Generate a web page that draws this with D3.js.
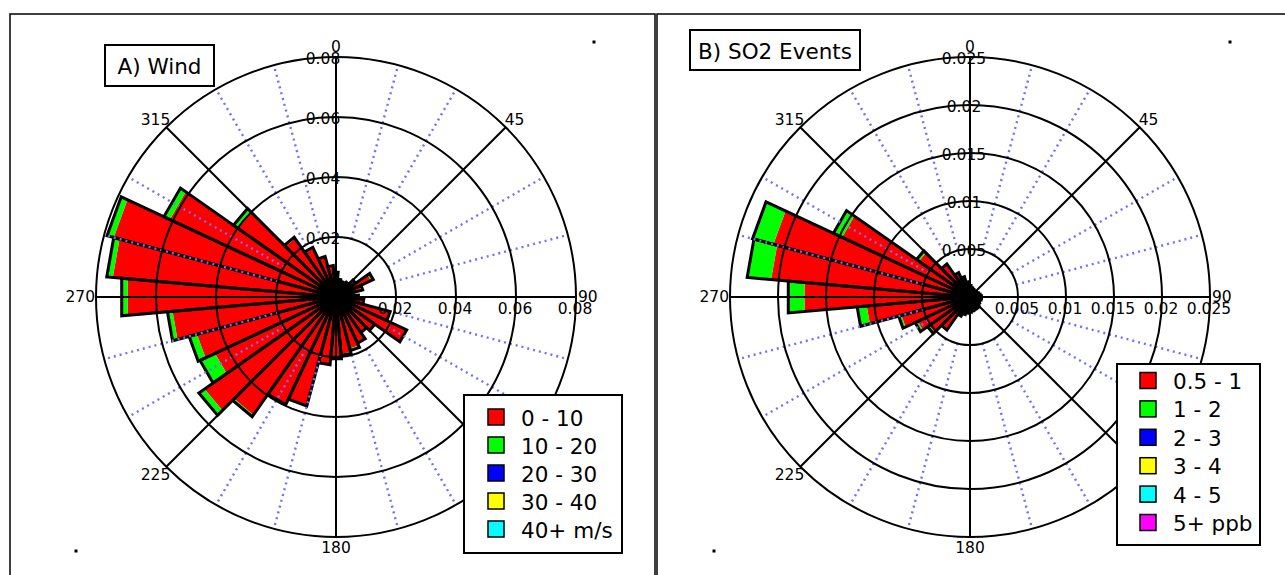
<!DOCTYPE html>
<html>
<head>
<meta charset="utf-8">
<script src="https://cdn.jsdelivr.net/npm/d3@7"></script>
<style>
  body { margin: 0; background: #fff; }
  svg { display: block; }
  text { font-family: "DejaVu Sans", sans-serif; fill: #000; }
</style>
</head>
<body>
<svg id="chart" width="1285" height="575"></svg>
<script>
// Direction bins (degrees, compass bearing, 10° wide, centred on the value)
const directions = [0, 10, 20, 30, 40, 50, 60, 70, 80, 90, 100, 110, 120, 130, 140, 150, 160, 170,
                    180, 190, 200, 210, 220, 230, 240, 250, 260, 270, 280, 290, 300, 310, 320, 330, 340, 350];

// A) Wind: frequency per direction bin, by wind speed class
const windClasses = ["0 - 10", "10 - 20", "20 - 30", "30 - 40", "40+ m/s"];
const wind0to10 = [0.0083, 0.0060, 0.0055, 0.0050, 0.0060, 0.0077, 0.0129, 0.0086, 0.0060, 0.0075, 0.0093, 0.0187,
                   0.0260, 0.0158, 0.0145, 0.0170, 0.0178, 0.0190, 0.0202, 0.0227, 0.0376, 0.0396, 0.0480, 0.0535,
                   0.0445, 0.0480, 0.0547, 0.0697, 0.0747, 0.0767, 0.0611, 0.0400, 0.0238, 0.0179, 0.0138, 0.0105];
const wind10to20 = [0, 0, 0, 0, 0, 0.0003, 0.0008, 0.0006, 0, 0, 0, 0,
                    0, 0, 0, 0, 0.0007, 0.0005, 0.0005, 0, 0, 0, 0.0007, 0.0023,
                    0.0055, 0.0027, 0.0017, 0.0020, 0.0020, 0.0023, 0.0022, 0.0017, 0.0005, 0.0004, 0.0002, 0];
const wind20to30 = [0, 0, 0, 0, 0, 0, 0, 0, 0, 0, 0, 0, 0, 0, 0, 0, 0, 0,
                    0, 0, 0, 0, 0, 0, 0, 0, 0, 0, 0, 0, 0, 0, 0, 0, 0, 0];
const wind30to40 = [0, 0, 0, 0, 0, 0, 0, 0, 0, 0, 0, 0, 0, 0, 0, 0, 0, 0,
                    0, 0, 0, 0, 0, 0, 0, 0, 0, 0, 0, 0, 0, 0, 0, 0, 0, 0];
const wind40plus = [0, 0, 0, 0, 0, 0, 0, 0, 0, 0, 0, 0, 0, 0, 0, 0, 0, 0,
                    0, 0, 0, 0, 0, 0, 0, 0, 0, 0, 0, 0, 0, 0, 0, 0, 0, 0];
const windTicks = [0.02, 0.04, 0.06, 0.08];
const windTickLabels = ["0.02", "0.04", "0.06", "0.08"];

// B) SO2 events: frequency per direction bin, by concentration class
const so2Classes = ["0.5 - 1", "1 - 2", "2 - 3", "3 - 4", "4 - 5", "5+ ppb"];
const so2_05to1 = [0.0012, 0.0010, 0.0009, 0.0008, 0.0008, 0.0008, 0.0009, 0.0010, 0.0011, 0.0012, 0.0012, 0.0011,
                   0.0011, 0.0012, 0.0013, 0.0014, 0.0014, 0.0015, 0.0016, 0.0017, 0.0019, 0.0022, 0.0041, 0.0052,
                   0.0060, 0.0074, 0.0108, 0.0173, 0.0208, 0.0212, 0.0147, 0.0065, 0.0041, 0.0028, 0.0022, 0.0016];
const so2_1to2 = [0, 0, 0, 0, 0, 0, 0, 0, 0, 0, 0, 0,
                  0, 0, 0, 0, 0, 0, 0, 0, 0, 0, 0.0001, 0.0002,
                  0.0003, 0.0003, 0.0010, 0.0017, 0.0025, 0.0021, 0.0010, 0.0003, 0.0001, 0, 0, 0];
const so2_2to3 = [0, 0, 0, 0, 0, 0, 0, 0, 0, 0, 0, 0, 0, 0, 0, 0, 0, 0,
                  0, 0, 0, 0, 0, 0, 0, 0, 0, 0, 0, 0.00015, 0, 0, 0, 0, 0, 0];
const so2_3to4 = [0, 0, 0, 0, 0, 0, 0, 0, 0, 0, 0, 0, 0, 0, 0, 0, 0, 0,
                  0, 0, 0, 0, 0, 0, 0, 0, 0, 0, 0, 0, 0, 0, 0, 0, 0, 0];
const so2_4to5 = [0, 0, 0, 0, 0, 0, 0, 0, 0, 0, 0, 0, 0, 0, 0, 0, 0, 0,
                  0, 0, 0, 0, 0, 0, 0, 0, 0, 0, 0, 0, 0, 0, 0, 0, 0, 0];
const so2_5plus = [0, 0, 0, 0, 0, 0, 0, 0, 0, 0, 0, 0, 0, 0, 0, 0, 0, 0,
                   0, 0, 0, 0, 0, 0, 0, 0, 0, 0, 0, 0, 0, 0, 0, 0, 0, 0];
const so2Ticks = [0.005, 0.01, 0.015, 0.02, 0.025];
const so2TickLabels = ["0.005", "0.01", "0.015", "0.02", "0.025"];

// Compass grid angles; the 135 label sits under the legend, so only the others are written
const compassAngles = [0, 45, 90, 135, 180, 225, 270, 315];
const compassLabelAngles = [0, 45, 90, 180, 225, 270, 315];
const compassLabels = ["0", "45", "90", "180", "225", "270", "315"];
const minorAngles = [15, 30, 60, 75, 105, 120, 150, 165, 195, 210, 240, 255, 285, 300, 330, 345];

const classColors = ["#ff0000", "#00ff00", "#0000ff", "#ffff00", "#00ffff", "#ff00ff"];

const svg = d3.select("#chart");
svg.append("rect").attr("width", 1285).attr("height", 575).attr("fill", "#fff");

// panel frames
svg.append("rect").attr("x", 10).attr("y", 14).attr("width", 645).attr("height", 620)
  .attr("fill", "none").attr("stroke", "#000").attr("stroke-width", 1.5);
svg.append("rect").attr("x", 657).attr("y", 14).attr("width", 700).attr("height", 620)
  .attr("fill", "none").attr("stroke", "#000").attr("stroke-width", 1.5);

function drawRose(cfg) {
  const g = svg.append("g");
  const { cx, cy, R } = cfg;
  const r = d3.scaleLinear().domain([0, cfg.max]).range([0, R]);
  const ang = d3.scaleLinear().domain([0, 360]).range([0, 2 * Math.PI]);
  const pt = (v, deg) => [cx + r(v) * Math.sin(ang(deg)), cy - r(v) * Math.cos(ang(deg))];
  const halfBin = 5;

  // stacked petals
  const stack = d3.stack().keys(d3.range(cfg.series.length))
    .value((d, k) => cfg.series[k][d]);
  const layers = stack(d3.range(directions.length));
  layers.forEach((layer, k) => {
    g.append("g").selectAll("polygon")
      .data(layer.filter(d => d[1] - d[0] > 0))
      .join("polygon")
      .attr("fill", classColors[k])
      .attr("points", d => {
        const dir = directions[d.data];
        return [pt(d[0], dir - halfBin), pt(d[1], dir - halfBin),
                pt(d[1], dir + halfBin), pt(d[0], dir + halfBin)].map(p => p.join(",")).join(" ");
      });
  });
  const totals = d3.range(directions.length).map(i => layers[layers.length - 1][i][1]);
  g.append("g").selectAll("polygon")
    .data(d3.range(directions.length))
    .join("polygon")
    .attr("fill", "none")
    .attr("stroke", "#000")
    .attr("stroke-width", 3)
    .attr("stroke-linejoin", "miter")
    .attr("points", i => {
      const dir = directions[i];
      return [[cx, cy], pt(totals[i], dir - halfBin), pt(totals[i], dir + halfBin)]
        .map(p => p.join(",")).join(" ");
    });

  // grid: dotted minor spokes, rings and major spokes
  const first = cfg.ticks[0];
  g.append("g").selectAll("line").data(minorAngles).join("line")
    .attr("x1", d => pt(first, d)[0]).attr("y1", d => pt(first, d)[1])
    .attr("x2", d => pt(cfg.max, d)[0]).attr("y2", d => pt(cfg.max, d)[1])
    .attr("stroke", "#7070ff").attr("stroke-width", 2.4).attr("stroke-dasharray", "2 4");
  g.append("g").selectAll("circle").data(cfg.ticks).join("circle")
    .attr("cx", cx).attr("cy", cy).attr("r", d => r(d))
    .attr("fill", "none").attr("stroke", "#000").attr("stroke-width", 2);
  g.append("g").selectAll("line").data(compassAngles).join("line")
    .attr("x1", cx).attr("y1", cy)
    .attr("x2", d => pt(cfg.max, d)[0]).attr("y2", d => pt(cfg.max, d)[1])
    .attr("stroke", "#000").attr("stroke-width", 2);

  // radial tick labels along north and east
  const fs = "15.5px";
  g.append("g").selectAll("text").data(cfg.ticks).join("text")
    .attr("x", cx + cfg.northShift).attr("y", d => cy - r(d) + 2)
    .attr("text-anchor", "middle").attr("dominant-baseline", "central")
    .style("font-size", fs).text((d, i) => cfg.tickLabels[i]);
  g.append("g").selectAll("text").data(cfg.ticks).join("text")
    .attr("x", d => cx + r(d) - 1).attr("y", cy + 12)
    .attr("text-anchor", "middle").attr("dominant-baseline", "central")
    .style("font-size", fs).text((d, i) => cfg.tickLabels[i]);

  // compass labels
  const place = {
    0:   { dx: 0,  dy: -10, a: "middle" },
    45:  { dx: -1, dy: -7,  a: "start" },
    90:  { dx: 2,  dy: 0,   a: "start" },
    180: { dx: 0,  dy: 11,  a: "middle" },
    225: { dx: 4,  dy: 8,   a: "end" },
    270: { dx: -1, dy: 0,   a: "end" },
    315: { dx: 4,  dy: -7,  a: "end" }
  };
  g.append("g").selectAll("text").data(compassLabelAngles).join("text")
    .attr("x", d => pt(cfg.max, d)[0] + place[d].dx)
    .attr("y", d => pt(cfg.max, d)[1] + place[d].dy)
    .attr("text-anchor", d => place[d].a).attr("dominant-baseline", "central")
    .style("font-size", fs).text((d, i) => compassLabels[i]);

  // title box
  const tb = cfg.titleBox;
  g.append("rect").attr("x", tb.x).attr("y", tb.y).attr("width", tb.w).attr("height", tb.h)
    .attr("fill", "#fff").attr("stroke", "#000").attr("stroke-width", 2);
  g.append("text").attr("x", tb.x + tb.w / 2).attr("y", tb.y + tb.h / 2 + 1)
    .attr("text-anchor", "middle").attr("dominant-baseline", "central")
    .style("font-size", "21.5px").text(cfg.title);

  // legend
  const lb = cfg.legendBox;
  const lg = g.append("g");
  lg.append("rect").attr("x", lb.x).attr("y", lb.y).attr("width", lb.w).attr("height", lb.h)
    .attr("fill", "#fff").attr("stroke", "#000").attr("stroke-width", 2);
  const rows = lg.selectAll("g.row").data(cfg.classes).join("g").attr("class", "row")
    .attr("transform", (d, i) => `translate(0,${lb.firstRow + i * lb.step})`);
  rows.append("rect").attr("x", lb.swatchX).attr("y", -8).attr("width", 16).attr("height", 16)
    .attr("fill", (d, i) => classColors[i]).attr("stroke", "#000").attr("stroke-width", 1.5);
  rows.append("text").attr("x", lb.textX).attr("y", 1)
    .attr("dominant-baseline", "central").style("font-size", "21.5px").text(d => d);

  // corner marks
  cfg.marks.forEach(m => g.append("rect").attr("x", m[0] - 1.5).attr("y", m[1] - 1.5)
    .attr("width", 3).attr("height", 3).attr("fill", "#000"));
}

drawRose({
  cx: 336, cy: 297, R: 240, max: 0.08,
  ticks: windTicks, tickLabels: windTickLabels, northShift: -13,
  series: [wind0to10, wind10to20, wind20to30, wind30to40, wind40plus],
  classes: windClasses,
  title: "A) Wind",
  titleBox: { x: 105, y: 45, w: 109, h: 41 },
  legendBox: { x: 464, y: 395, w: 158, h: 158, firstRow: 417, step: 28, swatchX: 488, textX: 521 },
  marks: [[594, 42], [76, 551]]
});

drawRose({
  cx: 970, cy: 297, R: 240, max: 0.025,
  ticks: so2Ticks, tickLabels: so2TickLabels, northShift: -6,
  series: [so2_05to1, so2_1to2, so2_2to3, so2_3to4, so2_4to5, so2_5plus],
  classes: so2Classes,
  title: "B) SO2 Events",
  titleBox: { x: 690, y: 30, w: 170, h: 40 },
  legendBox: { x: 1117, y: 364, w: 143, h: 181, firstRow: 380.5, step: 28.4, swatchX: 1140, textX: 1173 },
  marks: [[1230, 42], [714, 551]]
});
</script>
</body>
</html>
